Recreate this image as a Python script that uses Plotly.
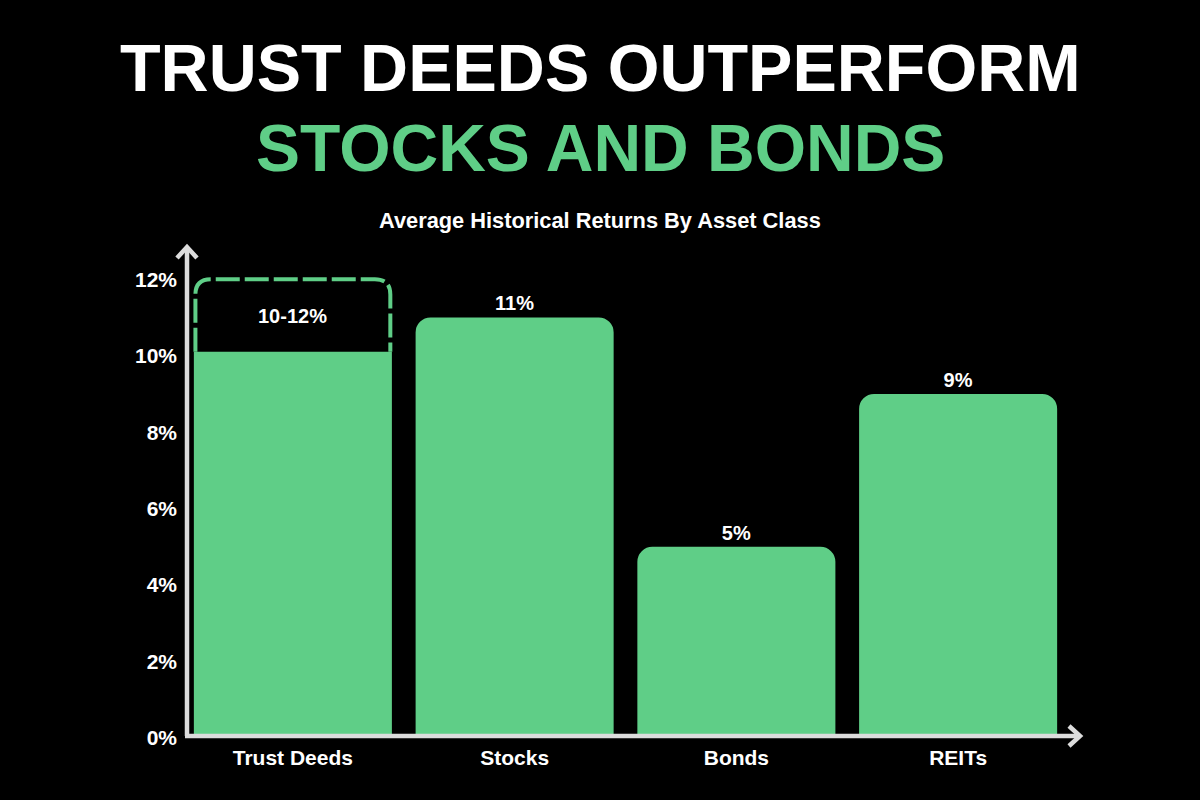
import plotly.graph_objects as go

categories = ["Trust Deeds", "Stocks", "Bonds", "REITs"]
rounded_returns = [11, 5, 9]
trust_deed_low = 10.1
trust_deed_high = 12
trust_deed_label = "10-12%"
tick_values = [0, 2, 4, 6, 8, 10, 12]
tick_labels = ["0%", "2%", "4%", "6%", "8%", "10%", "12%"]

GREEN = "#5fce87"
AXIS_GREY = "#dcdcdc"
FONT = "Liberation Sans"
BAR_WIDTH = 0.893

# plot area in page pixels, paper coordinates are relative to it
PLOT_L, PLOT_R, PLOT_T, PLOT_B = 182, 1069, 241, 738


def px_x(px):
    return (px - PLOT_L) / (PLOT_R - PLOT_L)


def px_y(py):
    return (PLOT_B - py) / (PLOT_B - PLOT_T)


fig = go.Figure()

fig.add_trace(go.Bar(
    x=[0], y=[trust_deed_low], width=BAR_WIDTH,
    marker=dict(color=GREEN, line_width=0),
    hoverinfo="skip",
))
fig.add_trace(go.Bar(
    x=[1, 2, 3], y=rounded_returns, width=BAR_WIDTH,
    marker=dict(color=GREEN, line_width=0, cornerradius=15),
    text=[f"{v}%" for v in rounded_returns],
    textposition="outside",
    textfont=dict(family=FONT, size=20, color="white", weight="bold"),
    cliponaxis=False,
    hoverinfo="skip",
))

# dashed bracket for the trust deed range, rounded at the top
left = -BAR_WIDTH / 2 + 0.007
right = BAR_WIDTH / 2 - 0.007
rx = 0.07
ry = 0.4
bracket = (
    f"M {left} {trust_deed_low} L {left} {trust_deed_high - ry} "
    f"Q {left} {trust_deed_high} {left + rx} {trust_deed_high} "
    f"L {right - rx} {trust_deed_high} "
    f"Q {right} {trust_deed_high} {right} {trust_deed_high - ry} "
    f"L {right} {trust_deed_low}"
)
fig.add_shape(type="path", path=bracket, xref="x", yref="y",
              line=dict(color=GREEN, width=4, dash="24px,5px"))

# axis lines with chevron heads
axis_line = dict(color=AXIS_GREY, width=4.5)
fig.add_shape(type="path", xref="paper", yref="paper", layer="above", line=axis_line,
              path=f"M {px_x(187)} {px_y(736)} L {px_x(187)} {px_y(247)}")
fig.add_shape(type="path", xref="paper", yref="paper", layer="above", line=axis_line,
              path=f"M {px_x(177)} {px_y(258)} L {px_x(187)} {px_y(247)} L {px_x(197)} {px_y(258)}")
fig.add_shape(type="path", xref="paper", yref="paper", layer="above", line=axis_line,
              path=f"M {px_x(185)} {px_y(736)} L {px_x(1079)} {px_y(736)}")
fig.add_shape(type="path", xref="paper", yref="paper", layer="above", line=axis_line,
              path=f"M {px_x(1069)} {px_y(726)} L {px_x(1080)} {px_y(736)} L {px_x(1069)} {px_y(746)}")

fig.add_annotation(x=0, y=(trust_deed_low + trust_deed_high) / 2, text=trust_deed_label,
                   showarrow=False, xref="x", yref="y",
                   font=dict(family=FONT, size=20, color="white", weight="bold"))

center = px_x(600)
fig.add_annotation(x=center, y=px_y(68), xref="paper", yref="paper", showarrow=False, yanchor="middle",
                   text="TRUST DEEDS OUTPERFORM",
                   font=dict(family=FONT, size=66.5, color="white", weight="bold"))
fig.add_annotation(x=center, y=px_y(148), xref="paper", yref="paper", showarrow=False, yanchor="middle",
                   text="STOCKS AND BONDS",
                   font=dict(family=FONT, size=66, color=GREEN, weight="bold"))
fig.add_annotation(x=center, y=px_y(220), xref="paper", yref="paper", showarrow=False, yanchor="middle",
                   text="Average Historical Returns By Asset Class",
                   font=dict(family=FONT, size=21.8, color="white", weight="bold"))

fig.update_layout(
    width=1200, height=800,
    margin=dict(l=PLOT_L, r=1200 - PLOT_R, t=PLOT_T, b=800 - PLOT_B, autoexpand=False),
    paper_bgcolor="black", plot_bgcolor="black",
    barmode="overlay", showlegend=False,
    xaxis=dict(
        range=[-0.5, 3.5], tickvals=[0, 1, 2, 3], ticktext=categories,
        showgrid=False, zeroline=False, showline=False, ticks="",
        ticklabelstandoff=5,
        tickfont=dict(family=FONT, size=21, color="white", weight="bold"),
    ),
    yaxis=dict(
        range=[0, 13], tickvals=tick_values, ticktext=tick_labels,
        showgrid=False, zeroline=False, showline=False, ticks="",
        ticklabelstandoff=4,
        tickfont=dict(family=FONT, size=21, color="white", weight="bold"),
    ),
)

# page margin would otherwise leave a white strip around the black chart
fig.write_html("out.html", config={"displayModeBar": False},
               post_script="document.body.style.margin='0';document.body.style.background='black';")
